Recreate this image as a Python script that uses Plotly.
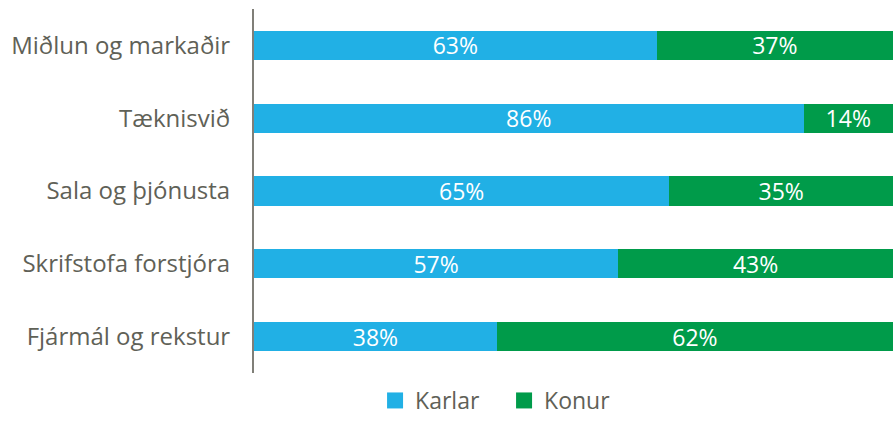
import plotly.graph_objects as go

categories = ["Miðlun og markaðir", "Tæknisvið", "Sala og þjónusta", "Skrifstofa forstjóra", "Fjármál og rekstur"]
karlar = [63, 86, 65, 57, 38]
konur = [37, 14, 35, 43, 62]
series_names = ["Karlar", "Konur"]

blue = "#21B0E5"
green = "#009B4A"
grey = "#5F6157"
font_family = "Open Sans, sans-serif"

fig = go.Figure()
for name, vals, col in [(series_names[0], karlar, blue), (series_names[1], konur, green)]:
    fig.add_trace(go.Bar(
        y=categories, x=vals, name=name, orientation="h",
        marker=dict(color=col, line=dict(width=0)),
        text=[f"{v}%" for v in vals], textposition="inside", insidetextanchor="middle",
        textfont=dict(color="white", size=23, family=font_family),
        hoverinfo="skip", showlegend=False, legendgroup=name,
    ))
# legend entries (larger square swatches)
for name, col in [(series_names[0], blue), (series_names[1], green)]:
    fig.add_trace(go.Scatter(
        x=[None], y=[None], mode="markers", name=name, legendgroup=name,
        marker=dict(symbol="square", size=18, color=col, line=dict(width=0)),
        showlegend=True, hoverinfo="skip",
    ))

fig.update_layout(
    barmode="stack",
    bargap=0.6,
    width=893, height=422,
    margin=dict(l=254, r=0, t=9, b=49),
    paper_bgcolor="white", plot_bgcolor="white",
    font=dict(family=font_family, color=grey, size=22),
    uniformtext=dict(mode="show", minsize=23),
    xaxis=dict(range=[0, 100], visible=False, fixedrange=True),
    yaxis=dict(
        autorange="reversed", showgrid=False, zeroline=False,
        showline=True, linecolor="#807F78", linewidth=2,
        ticks="", ticklabelstandoff=17,
        tickfont=dict(size=24, color=grey, family=font_family),
    ),
    legend=dict(
        orientation="h", xref="container", yref="container",
        x=0.42, xanchor="left", y=-0.008, yanchor="bottom",
        font=dict(size=23, color=grey, family=font_family),
        itemwidth=30, itemsizing="trace", traceorder="normal",
        entrywidth=84, entrywidthmode="pixels",
    ),
    showlegend=True,
)

fig.write_html("out.html")
